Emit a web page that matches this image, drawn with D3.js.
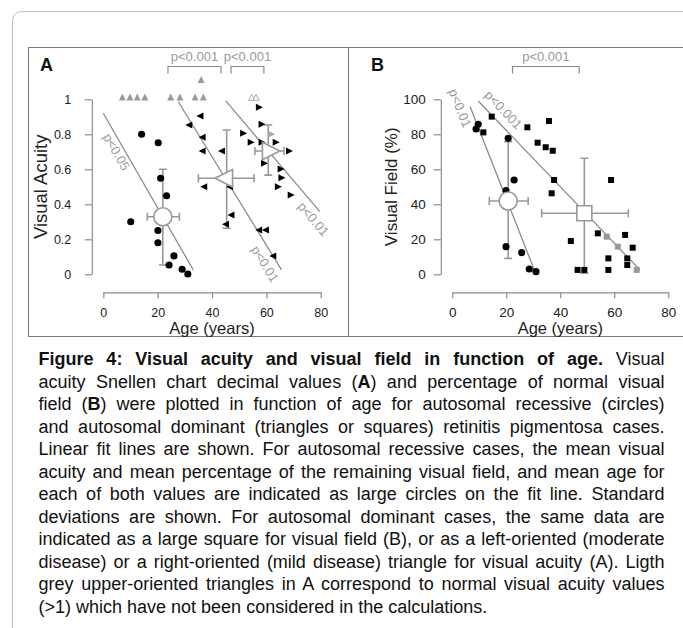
<!DOCTYPE html>
<html>
<head>
<meta charset="utf-8">
<script src="https://cdn.jsdelivr.net/npm/d3@7"></script>
<style>
	html, body { margin: 0; padding: 0; background: #fff; }
	svg { display: block; font-family: "Liberation Sans", Arial, sans-serif; }
</style>
</head>
<body>
<div id="fig"></div>
<script>
// ---- data ----
const ageTicks = [0, 20, 40, 60, 80];
const acuityTicks = [0, 0.2, 0.4, 0.6, 0.8, 1];
const fieldTicks = [0, 20, 40, 60, 80, 100];

// A: autosomal recessive (circles)
const recAgeA = [10.1, 14.1, 20.2, 21.1, 23.3, 20.1, 20.1, 26.0, 24.2, 29.0, 31.1];
const recAcuityA = [0.30, 0.80, 0.752, 0.549, 0.449, 0.25, 0.18, 0.105, 0.053, 0.029, 0.002];
// A: autosomal dominant, moderate (left triangles)
const modAgeA = [31.9, 36.0, 36.8, 36.8, 43.9, 37.4, 46.9, 47.4, 45.4, 57.6, 60.1, 62.8];
const modAcuityA = [0.853, 0.905, 0.783, 0.705, 0.705, 0.50, 0.50, 0.339, 0.286, 0.253, 0.253, 0.105];
// A: autosomal dominant, mild (right triangles)
const mildAgeA = [57.0, 58.0, 51.2, 54.0, 58.0, 63.2, 68.1, 58.9, 65.0, 65.3, 64.0, 68.7];
const mildAcuityA = [0.954, 0.857, 0.806, 0.754, 0.754, 0.754, 0.705, 0.634, 0.602, 0.552, 0.50, 0.453];
const mildGreyAgeA = [61.5];
const mildGreyAcuityA = [0.80];
// A: normal acuity (>1), not used in calculations
const normAgeA = [7.0, 9.8, 12.5, 15.3, 24.8, 28.2, 33.8, 36.8, 36.0];
const normAcuityA = [1.006, 1.006, 1.006, 1.006, 1.006, 1.006, 1.006, 1.006, 1.106];
const normOpenAgeA = [54.6, 56.2];
const normOpenAcuityA = [1.006, 1.006];

const meansA = [
	{ shape: 'circle', age: 21.9, value: 0.329, ageLo: 16.2, ageHi: 28.0, valLo: 0.053, valHi: 0.60 },
	{ shape: 'left', age: 45.4, value: 0.549, ageLo: 35.0, ageHi: 55.5, valLo: 0.263, valHi: 0.825 },
	{ shape: 'right', age: 60.7, value: 0.705, ageLo: 55.8, ageHi: 66.5, valLo: 0.567, valHi: 0.853 }
];
const fitsA = [
	{ a0: 0.0, v0: 0.92, a1: 33.1, v1: 0.025, p: 'p<0.05', pAge: 4.9, pVal: 0.70 },
	{ a0: 27.6, v0: 0.986, a1: 65.6, v1: 0.025, p: 'p<0.01', pAge: 59.5, pVal: 0.059 },
	{ a0: 45.0, v0: 0.992, a1: 79.7, v1: 0.358, p: 'p<0.01', pAge: 77.3, pVal: 0.316 }
];
const bracketsA = [
	{ from: 23.8, to: 43.3, p: 'p<0.001' },
	{ from: 47.0, to: 59.1, p: 'p<0.001' }
];

// B: autosomal recessive (circles)
const recAgeB = [9.6, 8.8, 20.7, 22.9, 19.9, 19.9, 19.9, 25.7, 28.5, 31.0];
const recFieldB = [85.7, 83.0, 77.7, 53.9, 47.8, 38.6, 15.8, 12.4, 3.0, 1.5];
// B: autosomal dominant (squares)
const domAgeB = [14.6, 11.5, 27.8, 35.8, 31.6, 34.6, 37.2, 37.7, 36.8, 58.8, 53.9, 43.9,
	64.0, 66.8, 57.8, 64.8, 64.8, 46.4, 48.9, 57.8];
const domFieldB = [90.1, 81.1, 84.0, 87.6, 75.2, 72.6, 70.6, 53.9, 46.3, 53.9, 23.4, 19.0,
	22.5, 15.2, 9.1, 9.1, 5.3, 2.5, 2.5, 2.5];
const domGreyAgeB = [57.2, 61.3, 68.3];
const domGreyFieldB = [21.5, 15.8, 2.5];

const meansB = [
	{ shape: 'circle', age: 20.7, value: 41.9, ageLo: 13.7, ageHi: 28.1, valLo: 9.1, valHi: 75.8 },
	{ shape: 'square', age: 48.9, value: 34.9, ageLo: 33.1, ageHi: 65.2, valLo: 0.6, valHi: 66.3 }
];
const fitsB = [
	{ a0: 6.6, v0: 95.8, a1: 31.0, v1: 0.0, p: 'p<0.01', pAge: 2.9, pVal: 95.0 },
	{ a0: 9.6, v0: 99.0, a1: 69.5, v1: 2.5, p: 'p<0.001', pAge: 18.9, pVal: 94.0 }
];
const bracketsB = [
	{ from: 22.3, to: 47.0, p: 'p<0.001' }
];

const captionLines = [
	[['Figure 4: Visual acuity and visual field in function of age.', true], [' Visual', false]],
	[['acuity Snellen chart decimal values (', false], ['A', true], [') and percentage of normal visual', false]],
	[['field (', false], ['B', true], [') were plotted in function of age for autosomal recessive (circles)', false]],
	[['and autosomal dominant (triangles or squares) retinitis pigmentosa cases.', false]],
	[['Linear fit lines are shown. For autosomal recessive cases, the mean visual', false]],
	[['acuity and mean percentage of the remaining visual field, and mean age for', false]],
	[['each of both values are indicated as large circles on the fit line. Standard', false]],
	[['deviations are shown. For autosomal dominant cases, the same data are', false]],
	[['indicated as a large square for visual field (B), or as a left-oriented (moderate', false]],
	[['disease) or a right-oriented (mild disease) triangle for visual acuity (A). Ligth', false]],
	[['grey upper-oriented triangles in A correspond to normal visual acuity values', false]],
	[['(>1) which have not been considered in the calculations.', false]]
];

// ---- drawing ----
const W = 683, H = 628;
const grey = '#8c8c8c';
const pGrey = '#9a9a9a';

const svg = d3.select('#fig').append('svg')
	.attr('width', W)
	.attr('height', H);

// outer frame and panel boxes
svg.append('rect')
	.attr('x', 12.5).attr('y', 11.5)
	.attr('width', 760).attr('height', 700)
	.attr('rx', 9)
	.attr('fill', 'none')
	.attr('stroke', '#bdbdbd');
svg.append('rect')
	.attr('x', 28.5).attr('y', 47.5)
	.attr('width', 740).attr('height', 289)
	.attr('fill', 'none')
	.attr('stroke', '#7a7a7a');
svg.append('line')
	.attr('x1', 348.5).attr('x2', 348.5)
	.attr('y1', 47.5).attr('y2', 336.5)
	.attr('stroke', '#7a7a7a');

// triangle path with its centroid at 0,0
function tri(dir, w, h) {
	let a = 2 * w / 3, b = w / 3, c = h / 2;
	if (dir === 'left') return `M${-a},0L${b},${-c}L${b},${c}Z`;
	if (dir === 'right') return `M${a},0L${-b},${-c}L${-b},${c}Z`;
	return `M0,${-a}L${-c},${b}L${c},${b}Z`;
}

function panel(opt) {
	let { x, y, yTicks, letter, yLabel, yLabelSize, yLabelX, tickPad, tickSize } = opt;
	let g = svg.append('g');

	// axes
	let yAxis = g.append('g')
		.attr('transform', `translate(${x.range()[0] - 11.5},0)`)
		.call(d3.axisLeft(y).tickValues(yTicks).tickFormat((d) => String(d))
			.tickSize(7).tickSizeOuter(0).tickPadding(tickPad));
	let xAxis = g.append('g')
		.attr('transform', `translate(0,${y.range()[0] + 18})`)
		.call(d3.axisBottom(x).tickValues(ageTicks).tickSize(6).tickSizeOuter(0).tickPadding(6));

	[yAxis, xAxis].forEach((ax) => {
		ax.select('.domain').attr('stroke', grey).attr('stroke-width', 1.2);
		ax.selectAll('.tick line').attr('stroke', grey).attr('stroke-width', 1.2);
		ax.selectAll('.tick text')
			.attr('fill', '#222')
			.style('font-size', tickSize)
			.style('font-family', '"Liberation Sans", Arial, sans-serif');
	});
	xAxis.selectAll('.tick text').attr('y', 24.5).attr('dy', null);

	g.append('text')
		.attr('x', (x.range()[0] + x.range()[1]) / 2)
		.attr('y', 333.5)
		.attr('text-anchor', 'middle')
		.style('font-size', '16.5px')
		.attr('fill', '#222')
		.text('Age (years)');

	g.append('text')
		.attr('transform', `translate(${yLabelX},${(y.range()[0] + y.range()[1]) / 2}) rotate(-90)`)
		.attr('text-anchor', 'middle')
		.style('font-size', yLabelSize)
		.attr('fill', '#222')
		.text(yLabel);

	g.append('text')
		.attr('x', opt.letterX)
		.attr('y', 71)
		.style('font-size', '18px')
		.style('font-weight', 'bold')
		.attr('fill', '#111')
		.text(letter);

	// significance brackets
	opt.brackets.forEach((b) => {
		let x0 = x(b.from), x1 = x(b.to);
		g.append('path')
			.attr('d', `M${x0},73.5V66.5H${x1}V73.5`)
			.attr('fill', 'none')
			.attr('stroke', grey)
			.attr('stroke-width', 1.2);
		g.append('text')
			.attr('x', (x0 + x1) / 2)
			.attr('y', 60.5)
			.attr('text-anchor', 'middle')
			.style('font-size', '13px')
			.attr('fill', pGrey)
			.text(b.p);
	});

	// fit lines and their p labels
	opt.fits.forEach((f) => {
		g.append('line')
			.attr('x1', x(f.a0)).attr('y1', y(f.v0))
			.attr('x2', x(f.a1)).attr('y2', y(f.v1))
			.attr('stroke', grey)
			.attr('stroke-width', 1.3);
		let ang = Math.atan2(y(f.v1) - y(f.v0), x(f.a1) - x(f.a0)) * 180 / Math.PI;
		g.append('text')
			.attr('transform', `translate(${x(f.pAge)},${y(f.pVal)}) rotate(${ang})`)
			.attr('text-anchor', 'middle')
			.attr('dominant-baseline', 'central')
			.style('font-size', '13px')
			.attr('fill', pGrey)
			.text(f.p);
	});

	// error bars of the means
	opt.means.forEach((m) => {
		let cx = x(m.age), cy = y(m.value), cap = 4;
		g.append('path')
			.attr('d', `M${cx},${y(m.valLo)}V${y(m.valHi)}` +
				`M${cx - cap},${y(m.valLo)}H${cx + cap}M${cx - cap},${y(m.valHi)}H${cx + cap}` +
				`M${x(m.ageLo)},${cy}H${x(m.ageHi)}` +
				`M${x(m.ageLo)},${cy - cap}V${cy + cap}M${x(m.ageHi)},${cy - cap}V${cy + cap}`)
			.attr('fill', 'none')
			.attr('stroke', '#999')
			.attr('stroke-width', 1.6);
	});

	// data points
	opt.points.forEach((s) => {
		let pts = g.append('g').selectAll('path')
			.data(d3.zip(s.ages, s.values))
			.join('path')
			.attr('transform', (d) => `translate(${x(d[0])},${y(d[1])})`)
			.attr('fill', s.fill)
			.attr('stroke', s.stroke || 'none')
			.attr('stroke-width', 1);
		if (s.shape === 'circle') pts.attr('d', d3.symbol(d3.symbolCircle, 40)());
		else if (s.shape === 'square') pts.attr('d', 'M-3,-3H3V3H-3Z');
		else pts.attr('d', tri(s.shape, s.w, s.h));
	});

	// mean markers
	opt.means.forEach((m) => {
		let cx = x(m.age), cy = y(m.value);
		let mk = g.append('path')
			.attr('transform', `translate(${cx},${cy})`)
			.attr('fill', '#fff')
			.attr('stroke', '#999')
			.attr('stroke-width', 1.6);
		if (m.shape === 'circle') mk.attr('d', d3.symbol(d3.symbolCircle, Math.PI * 81)());
		else if (m.shape === 'square') mk.attr('d', 'M-7.5,-7.5H7.5V7.5H-7.5Z');
		else mk.attr('d', tri(m.shape, 17.5, 17.5));
	});
}

// panel A
const xA = d3.scaleLinear().domain([0, 80]).range([103.3, 320.7]);
const yA = d3.scaleLinear().domain([0, 1]).range([274.3, 99.3]);
panel({
	x: xA, y: yA, yTicks: acuityTicks, letter: 'A', letterX: 40,
	yLabel: 'Visual Acuity', yLabelSize: '18.5px', yLabelX: 47, tickPad: 13.5, tickSize: '12.5px',
	brackets: bracketsA, fits: fitsA, means: meansA,
	points: [
		{ shape: 'up', ages: normAgeA, values: normAcuityA, fill: '#9a9a9a', w: 7, h: 7 },
		{ shape: 'up', ages: normOpenAgeA, values: normOpenAcuityA, fill: '#fff', stroke: '#aaa', w: 6, h: 6 },
		{ shape: 'circle', ages: recAgeA, values: recAcuityA, fill: '#000' },
		{ shape: 'left', ages: modAgeA, values: modAcuityA, fill: '#000', w: 7, h: 7 },
		{ shape: 'right', ages: mildAgeA, values: mildAcuityA, fill: '#000', w: 7, h: 7 },
		{ shape: 'right', ages: mildGreyAgeA, values: mildGreyAcuityA, fill: '#aaa', w: 7, h: 7 }
	]
});

// panel B
const xB = d3.scaleLinear().domain([0, 80]).range([452.3, 668.3]);
const yB = d3.scaleLinear().domain([0, 100]).range([274.3, 99.3]);
panel({
	x: xB, y: yB, yTicks: fieldTicks, letter: 'B', letterX: 371,
	yLabel: 'Visual Field (%)', yLabelSize: '17px', yLabelX: 397, tickPad: 8, tickSize: '13.5px',
	brackets: bracketsB, fits: fitsB, means: meansB,
	points: [
		{ shape: 'circle', ages: recAgeB, values: recFieldB, fill: '#000' },
		{ shape: 'square', ages: domAgeB, values: domFieldB, fill: '#000' },
		{ shape: 'square', ages: domGreyAgeB, values: domGreyFieldB, fill: '#999' }
	]
});

// caption, justified line by line
const capX = 38.5, capW = 626, capY0 = 365, capLead = 22.5;
const cap = svg.append('g')
	.style('font-size', '18px')
	.attr('fill', '#111');

captionLines.forEach((segs, i) => {
	let t = cap.append('text')
		.attr('x', capX)
		.attr('y', capY0 + i * capLead)
		.style('white-space', 'pre');
	segs.forEach(([str, bold]) => {
		t.append('tspan')
			.style('font-weight', bold ? 'bold' : 'normal')
			.text(str);
	});
	if (i < captionLines.length - 1) {
		let full = segs.map((s) => s[0]).join('');
		let spaces = (full.match(/ /g) || []).length;
		let natural = t.node().getComputedTextLength();
		t.attr('word-spacing', (capW - natural) / spaces);
	}
});
</script>
</body>
</html>
